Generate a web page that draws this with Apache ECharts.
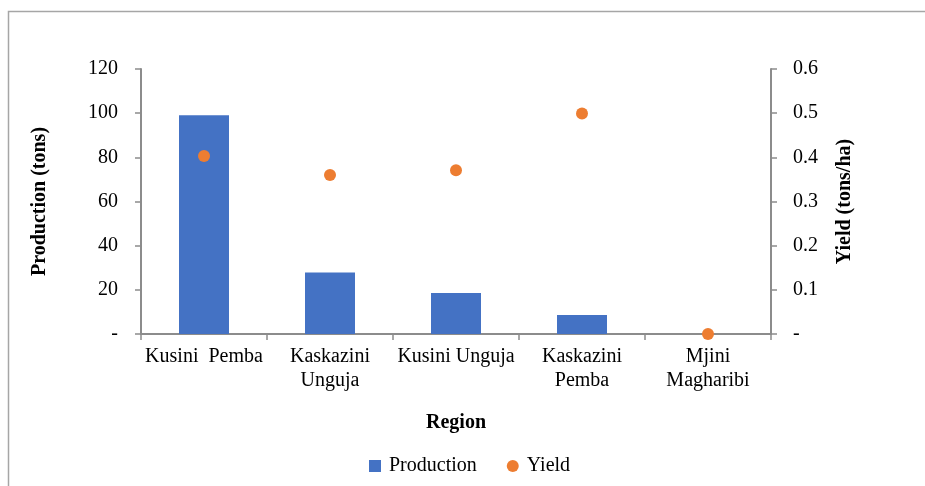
<!DOCTYPE html>
<html>
<head>
<meta charset="utf-8">
<script src="https://cdn.jsdelivr.net/npm/echarts@6/dist/echarts.min.js"></script>
<style>html,body{margin:0;padding:0;background:#fff;}#c{width:925px;height:486px;}</style>
</head>
<body>
<div id="c"></div>
<script>
var categories = ['Kusini  Pemba', 'Kaskazini\nUnguja', 'Kusini Unguja', 'Kaskazini\nPemba', 'Mjini\nMagharibi'];
var production = [99.1, 27.8, 18.6, 8.6, 0];
var yieldVals = [0.403, 0.36, 0.371, 0.499, 0];
var productionTicks = {min: 0, max: 120, interval: 20};
var yieldTicks = {min: 0, max: 0.6, interval: 0.1};

var FONT = "'Liberation Serif', 'Times New Roman', serif";
var FS = 20;
var AXIS_COLOR = '#8c8c8c';
var chart = echarts.init(document.getElementById('c'), null, {renderer: 'canvas'});
function dashZero(v) { return v === 0 ? '-' : String(+v.toFixed(2)); }
chart.setOption({
  animation: false,
  textStyle: {fontFamily: FONT},
  graphic: [{
    type: 'rect', silent: true,
    shape: {x: 8.5, y: 11.5, width: 1000, height: 1000},
    style: {fill: 'none', stroke: '#a6a6a6', lineWidth: 1.5}
  }],
  grid: {left: 141, right: 154, top: 69, bottom: 152, containLabel: false},
  legend: {
    top: 451, left: 364, itemGap: 30, itemWidth: 12, itemHeight: 12,
    textStyle: {fontFamily: FONT, fontSize: FS, color: '#000', padding: [0, 0, 0, 3]},
    data: [{name: 'Production', icon: 'rect'}, {name: 'Yield', icon: 'circle'}]
  },
  xAxis: {
    type: 'category', data: categories, boundaryGap: true,
    name: 'Region', nameLocation: 'middle', nameGap: 79,
    nameTextStyle: {fontFamily: FONT, fontSize: FS, fontWeight: 'bold', color: '#000'},
    axisLine: {lineStyle: {color: AXIS_COLOR, width: 2}},
    axisTick: {show: true, length: 6, lineStyle: {color: AXIS_COLOR, width: 1.5}},
    axisLabel: {fontFamily: FONT, fontSize: FS, color: '#000', margin: 11, lineHeight: 24, interval: 0}
  },
  yAxis: [{
    type: 'value', position: 'left',
    min: productionTicks.min, max: productionTicks.max, interval: productionTicks.interval,
    name: 'Production (tons)', nameLocation: 'middle', nameGap: 91, nameRotate: 90,
    nameTextStyle: {fontFamily: FONT, fontSize: FS, fontWeight: 'bold', color: '#000'},
    axisLine: {show: true, lineStyle: {color: AXIS_COLOR, width: 2}},
    axisTick: {show: true, length: 6, lineStyle: {color: AXIS_COLOR, width: 1.5}},
    splitLine: {show: false},
    axisLabel: {fontFamily: FONT, fontSize: FS, color: '#000', margin: 23, formatter: dashZero}
  }, {
    type: 'value', position: 'right',
    min: yieldTicks.min, max: yieldTicks.max, interval: yieldTicks.interval,
    name: 'Yield (tons/ha)', nameLocation: 'middle', nameGap: 64, nameRotate: 90,
    nameTextStyle: {fontFamily: FONT, fontSize: FS, fontWeight: 'bold', color: '#000'},
    axisLine: {show: true, lineStyle: {color: AXIS_COLOR, width: 2}},
    axisTick: {show: true, length: 6, lineStyle: {color: AXIS_COLOR, width: 1.5}},
    splitLine: {show: false},
    axisLabel: {fontFamily: FONT, fontSize: FS, color: '#000', margin: 22, formatter: dashZero}
  }],
  series: [{
    name: 'Production', type: 'bar', yAxisIndex: 0, data: production,
    barWidth: 50, itemStyle: {color: '#4472C4'}
  }, {
    name: 'Yield', type: 'scatter', yAxisIndex: 1, data: yieldVals,
    symbol: 'circle', symbolSize: 12, itemStyle: {color: '#ED7D31', opacity: 1}, z: 5
  }]
});
</script>
</body>
</html>
